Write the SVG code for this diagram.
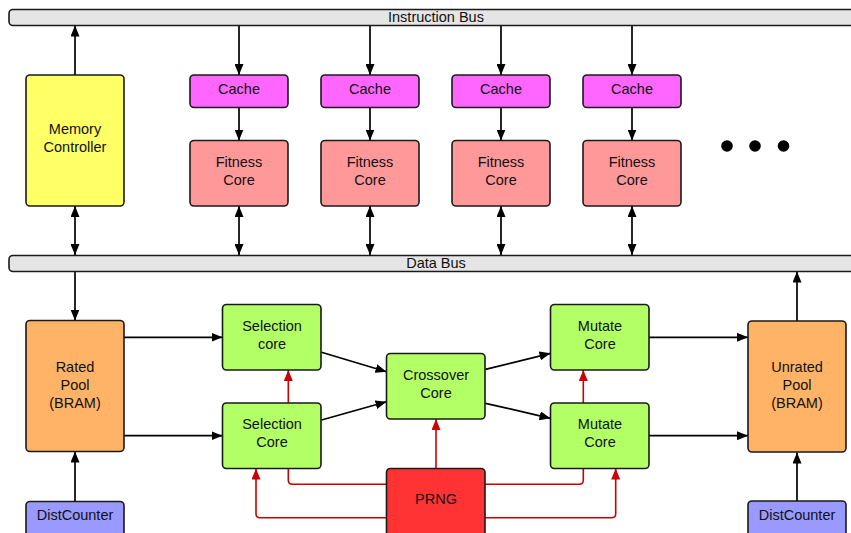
<svg xmlns="http://www.w3.org/2000/svg" width="851" height="533" viewBox="0 0 851 533">
<defs>
<style>
.n{stroke:#1a1a1a;stroke-width:1.6}
.t{font-family:"Liberation Sans",Arial,sans-serif;font-size:14.5px;fill:#111;text-anchor:middle}
.bt{font-family:"Liberation Sans",Arial,sans-serif;font-size:14.5px;fill:#111;text-anchor:middle}
.k{fill:none;stroke:#000;stroke-width:1.7}
.r{fill:none;stroke:#cc0000;stroke-width:1.6}
</style>
<marker id="a" viewBox="0 0 11 9" refX="11" refY="4.5" markerWidth="11" markerHeight="9" markerUnits="userSpaceOnUse" orient="auto-start-reverse"><path d="M0,0 L11,4.5 L0,9 z" fill="#000"/></marker>
<marker id="ar" viewBox="0 0 11 9" refX="11" refY="4.5" markerWidth="11" markerHeight="9" markerUnits="userSpaceOnUse" orient="auto-start-reverse"><path d="M0,0 L11,4.5 L0,9 z" fill="#cc0000"/></marker>
</defs>
<rect width="851" height="533" fill="#fff"/>
<g id="connectors">
<path class="k" d="M75,75 V25.5" marker-end="url(#a)"/>
<path class="k" d="M239,25.5 V75" marker-end="url(#a)"/>
<path class="k" d="M370,25.5 V75" marker-end="url(#a)"/>
<path class="k" d="M501,25.5 V75" marker-end="url(#a)"/>
<path class="k" d="M632,25.5 V75" marker-end="url(#a)"/>
<path class="k" d="M239,107.5 V140.5" marker-end="url(#a)"/>
<path class="k" d="M370,107.5 V140.5" marker-end="url(#a)"/>
<path class="k" d="M501,107.5 V140.5" marker-end="url(#a)"/>
<path class="k" d="M632,107.5 V140.5" marker-end="url(#a)"/>
<path class="k" d="M239,206 V255" marker-start="url(#a)" marker-end="url(#a)"/>
<path class="k" d="M370,206 V255" marker-start="url(#a)" marker-end="url(#a)"/>
<path class="k" d="M501,206 V255" marker-start="url(#a)" marker-end="url(#a)"/>
<path class="k" d="M632,206 V255" marker-start="url(#a)" marker-end="url(#a)"/>
<path class="k" d="M75,206 V255" marker-start="url(#a)" marker-end="url(#a)"/>
<path class="k" d="M75,271.5 V320.5" marker-end="url(#a)"/>
<path class="k" d="M797,321 V271.5" marker-end="url(#a)"/>
<path class="k" d="M124,337.3 H222.5" marker-end="url(#a)"/>
<path class="k" d="M124,435.7 H222.5" marker-end="url(#a)"/>
<path class="k" d="M321.5,352.3 L386.5,371.7" marker-end="url(#a)"/>
<path class="k" d="M321.5,420 L386.5,401.7" marker-end="url(#a)"/>
<path class="k" d="M485.5,369.3 L550.5,353.3" marker-end="url(#a)"/>
<path class="k" d="M485.5,403.3 L550.5,418.3" marker-end="url(#a)"/>
<path class="k" d="M649,337.3 H748" marker-end="url(#a)"/>
<path class="k" d="M649,435.7 H748" marker-end="url(#a)"/>
<path class="k" d="M75,501.5 V451.5" marker-end="url(#a)"/>
<path class="k" d="M797,501 V452.5" marker-end="url(#a)"/>
<path class="r" d="M288.3,403 V370" marker-end="url(#ar)"/>
<path class="r" d="M583.3,403 V370" marker-end="url(#ar)"/>
<path class="r" d="M436,468.5 V419" marker-end="url(#ar)"/>
<path class="r" d="M387,484.3 H292.3 Q288.3,484.3 288.3,480.3 V468.5"/>
<path class="r" d="M387,517.7 H260 Q256,517.7 256,513.7 V468.5" marker-end="url(#ar)"/>
<path class="r" d="M485,484.3 H579.3 Q583.3,484.3 583.3,480.3 V468.5"/>
<path class="r" d="M485,517.7 H611.7 Q615.7,517.7 615.7,513.7 V468.5" marker-end="url(#ar)"/>
</g>
<g id="instruction-bus"><rect class="n" x="9" y="9.5" width="860" height="16" rx="4" fill="#e5e5e5"/><text class="bt" x="436" y="21.5">Instruction Bus</text></g>
<g id="data-bus"><rect class="n" x="9" y="255.5" width="860" height="16" rx="4" fill="#e5e5e5"/><text class="bt" x="436" y="267.5">Data Bus</text></g>
<g id="memory-controller"><rect class="n" x="26" y="75" width="98" height="131" rx="4" fill="#ffff66"/><text class="t" x="75" y="134">Memory</text><text class="t" x="75" y="152">Controller</text></g>
<g id="cache1"><rect class="n" x="190" y="75" width="98" height="32.5" rx="4" fill="#ff66ff"/><text class="t" x="239" y="94">Cache</text></g>
<g id="cache2"><rect class="n" x="321" y="75" width="98" height="32.5" rx="4" fill="#ff66ff"/><text class="t" x="370" y="94">Cache</text></g>
<g id="cache3"><rect class="n" x="452" y="75" width="98" height="32.5" rx="4" fill="#ff66ff"/><text class="t" x="501" y="94">Cache</text></g>
<g id="cache4"><rect class="n" x="583" y="75" width="98" height="32.5" rx="4" fill="#ff66ff"/><text class="t" x="632" y="94">Cache</text></g>
<g id="fitness1"><rect class="n" x="190" y="140.5" width="98" height="65.5" rx="4" fill="#ff9999"/><text class="t" x="239" y="167">Fitness</text><text class="t" x="239" y="185">Core</text></g>
<g id="fitness2"><rect class="n" x="321" y="140.5" width="98" height="65.5" rx="4" fill="#ff9999"/><text class="t" x="370" y="167">Fitness</text><text class="t" x="370" y="185">Core</text></g>
<g id="fitness3"><rect class="n" x="452" y="140.5" width="98" height="65.5" rx="4" fill="#ff9999"/><text class="t" x="501" y="167">Fitness</text><text class="t" x="501" y="185">Core</text></g>
<g id="fitness4"><rect class="n" x="583" y="140.5" width="98" height="65.5" rx="4" fill="#ff9999"/><text class="t" x="632" y="167">Fitness</text><text class="t" x="632" y="185">Core</text></g>
<g id="ellipsis"><circle cx="727" cy="146" r="5.8" fill="#000"/><circle cx="755" cy="146" r="5.8" fill="#000"/><circle cx="783.5" cy="146" r="5.8" fill="#000"/></g>
<g id="rated-pool"><rect class="n" x="26" y="320.5" width="98" height="131" rx="4" fill="#ffb366"/><text class="t" x="75" y="372">Rated</text><text class="t" x="75" y="390">Pool</text><text class="t" x="75" y="408">(BRAM)</text></g>
<g id="selection1"><rect class="n" x="222.5" y="304.5" width="98.5" height="65.5" rx="4" fill="#b3ff66"/><text class="t" x="272" y="331">Selection</text><text class="t" x="272" y="349">core</text></g>
<g id="selection2"><rect class="n" x="222.5" y="403" width="98.5" height="65.5" rx="4" fill="#b3ff66"/><text class="t" x="272" y="429">Selection</text><text class="t" x="272" y="447">Core</text></g>
<g id="crossover"><rect class="n" x="386.5" y="353.5" width="98.5" height="65.5" rx="4" fill="#b3ff66"/><text class="t" x="436" y="380">Crossover</text><text class="t" x="436" y="398">Core</text></g>
<g id="mutate1"><rect class="n" x="550.5" y="304.5" width="98.5" height="65.5" rx="4" fill="#b3ff66"/><text class="t" x="600" y="331">Mutate</text><text class="t" x="600" y="349">Core</text></g>
<g id="mutate2"><rect class="n" x="550.5" y="403" width="98.5" height="65.5" rx="4" fill="#b3ff66"/><text class="t" x="600" y="429">Mutate</text><text class="t" x="600" y="447">Core</text></g>
<g id="unrated-pool"><rect class="n" x="748" y="321" width="98" height="131" rx="4" fill="#ffb366"/><text class="t" x="797" y="372">Unrated</text><text class="t" x="797" y="390">Pool</text><text class="t" x="797" y="408">(BRAM)</text></g>
<g id="prng"><rect class="n" x="386.5" y="468.5" width="98.5" height="75" rx="4" fill="#ff3333"/><text class="t" x="436" y="504">PRNG</text></g>
<g id="distcounter1"><rect class="n" x="26" y="501.5" width="98" height="40" rx="4" fill="#9999ff"/><text class="t" x="75" y="520">DistCounter</text></g>
<g id="distcounter2"><rect class="n" x="748" y="501" width="98" height="40" rx="4" fill="#9999ff"/><text class="t" x="797" y="520">DistCounter</text></g>
</svg>
